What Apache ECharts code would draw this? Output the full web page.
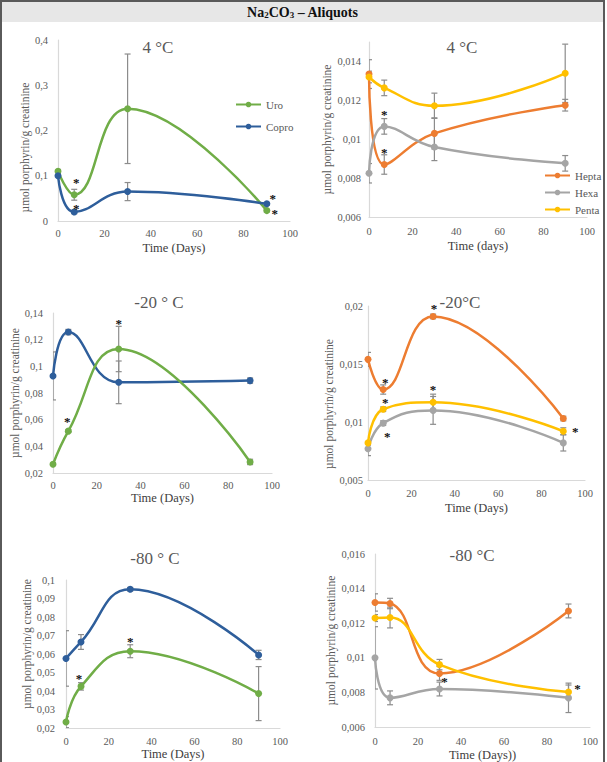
<!DOCTYPE html>
<html>
<head>
<meta charset="utf-8">
<script src="https://cdn.jsdelivr.net/npm/echarts@6/dist/echarts.min.js"></script>
<style>
  html, body { margin: 0; padding: 0; background: #fff; }
  #frame { position: relative; width: 607px; height: 762px; overflow: hidden; }
  #box {
    position: absolute; left: 0; top: 0; width: 605px; height: 770px; box-sizing: border-box;
    border: 2px solid #5a5a5a;
  }
  #header {
    position: absolute; left: 2px; top: 2px; width: 601px; height: 20px; background: #e7e7e7;
    font: bold 14px "Liberation Serif", serif; color: #111; text-align: center; line-height: 22px;
  }
  #header sub { font-size: 9px; vertical-align: -1px; line-height: 0; }
  #chart { position: absolute; left: 0; top: 0; width: 607px; height: 762px; }
</style>
</head>
<body>
<div id="frame">
  <div id="box"></div>
  <div id="header">Na<sub>2</sub>CO<sub>3</sub> – Aliquots</div>
  <div id="chart"></div>
</div>
<script>
const days = [0, 7, 30, 90];

// 4 °C
const uro4 = [0.110, 0.058, 0.248, 0.023];
const uro4Err = [0.004, 0.012, 0.121, 0.003];
const copro4 = [0.100, 0.020, 0.065, 0.038];
const copro4Err = [0.005, 0.004, 0.020, 0.003];
const hepta4 = [0.01335, 0.0087, 0.0103, 0.01175];
const hepta4Err = [0.00074, 0.0005, 0.0008, 0.0003];
const hexa4 = [0.00825, 0.01066, 0.0096, 0.00876];
const hexa4Err = [0.0005, 0.0004, 0.0007, 0.0004];
const penta4 = [0.0132, 0.01264, 0.01172, 0.01339];
const penta4Err = [0.0003, 0.0004, 0.00065, 0.0015];

// -20 °C
const uro20 = [0.0266, 0.0514, 0.113, 0.0283];
const uro20Err = [0.001, 0.001, 0.017, 0.002];
const copro20 = [0.0928, 0.1257, 0.088, 0.0893];
const copro20Err = [0.018, 0.002, 0.016, 0.002];
const hepta20 = [0.0154, 0.0128, 0.0191, 0.0103];
const hepta20Err = [0.0006, 0.0004, 0.0002, 0.0002];
const hexa20 = [0.0077, 0.0099, 0.011, 0.0082];
const hexa20Err = [0.0006, 0.0002, 0.0012, 0.0007];
const penta20 = [0.0082, 0.0111, 0.0117, 0.0092];
const penta20Err = [0.0002, 0.0002, 0.0007, 0.0003];

// -80 °C
const uro80 = [0.0232, 0.0425, 0.0615, 0.0386];
const uro80Err = [0.003, 0.002, 0.0035, 0.0146];
const copro80 = [0.0576, 0.0665, 0.095, 0.0595];
const copro80Err = [0.015, 0.004, 0.001, 0.0025];
const hepta80 = [0.0132, 0.01314, 0.0091, 0.01271];
const hepta80Err = [0.0005, 0.0003, 0.0004, 0.0004];
const hexa80 = [0.0100, 0.00769, 0.0082, 0.00769];
const hexa80Err = [0.0018, 0.0004, 0.0004, 0.00085];
const penta80 = [0.0123, 0.01233, 0.00961, 0.00803];
const penta80Err = [0.0002, 0.0006, 0.0003, 0.0004];

const xTicks = { min: 0, max: 100, interval: 20 };

const colors = { Uro: '#70AD47', Copro: '#2E5E9B', Hepta: '#ED7D31', Hexa: '#A5A5A5', Penta: '#FFC000' };
const serif = 'Liberation Serif';
const grey = '#595959';

const panels = [
  {
    title: '4 °C', tx: 158, ty: 47,
    grid: { left: 58, top: 40, width: 232, height: 181 },
    y: { min: 0, max: 0.4, interval: 0.1 },
    lines: [['Uro', uro4, uro4Err], ['Copro', copro4, copro4Err]],
    xName: 'Time (Days)', xGap: 20, xMargin: 7, yGap: 20, yMargin: 10, yShift: 17,
    stars: [['Uro', 1, 2, -15], ['Copro', 1, 2, -6], ['Copro', 3, 6, -8], ['Uro', 3, 8, 0]]
  },
  {
    title: '4 °C', tx: 462, ty: 47,
    grid: { left: 369, top: 42, width: 218, height: 175 },
    y: { min: 0.006, max: 0.015, interval: 0.002 },
    lines: [['Hepta', hepta4, hepta4Err], ['Hexa', hexa4, hexa4Err], ['Penta', penta4, penta4Err]],
    xName: 'Time (days)', xGap: 22, xMargin: 9, yGap: 36, yMargin: 8, yShift: 0,
    stars: [['Hexa', 1, 0, -15], ['Hepta', 1, 0, -15]]
  },
  {
    title: '-20 ° C', tx: 159, ty: 302,
    grid: { left: 53, top: 313, width: 219, height: 160 },
    y: { min: 0.02, max: 0.14, interval: 0.02 },
    lines: [['Copro', copro20, copro20Err], ['Uro', uro20, uro20Err]],
    xName: 'Time (Days)', xGap: 18, xMargin: 7, yGap: 2, yMargin: 10, yShift: 0,
    stars: [['Uro', 1, -1, -13], ['Uro', 2, 0, -29]]
  },
  {
    title: '-20°C', tx: 460, ty: 302,
    grid: { left: 368, top: 306, width: 217, height: 174 },
    y: { min: 0.005, max: 0.02, interval: 0.005 },
    lines: [['Hepta', hepta20, hepta20Err], ['Hexa', hexa20, hexa20Err], ['Penta', penta20, penta20Err]],
    xName: 'Time (Days)', xGap: 21, xMargin: 8, yGap: 32, yMargin: 5, yShift: 11,
    stars: [['Hepta', 1, 2, -10], ['Penta', 1, 2, -10], ['Hexa', 1, 4, 10],
            ['Hepta', 2, 1, -11], ['Penta', 2, 0, -16], ['Penta', 3, 12, -3]]
  },
  {
    title: '-80 ° C', tx: 155, ty: 558,
    grid: { left: 66, top: 580, width: 214, height: 148 },
    y: { min: 0.02, max: 0.1, interval: 0.01 },
    lines: [['Copro', copro80, copro80Err], ['Uro', uro80, uro80Err]],
    xName: 'Time (Days)', xGap: 16, xMargin: 8, yGap: 27, yMargin: 11, yShift: -10,
    stars: [['Uro', 1, -2, -11], ['Uro', 2, 0, -13]]
  },
  {
    title: '-80 °C', tx: 472, ty: 555,
    grid: { left: 375, top: 554, width: 215, height: 178 },
    y: { min: 0.006, max: 0.016, interval: 0.002 },
    lines: [['Hepta', hepta80, hepta80Err], ['Hexa', hexa80, hexa80Err], ['Penta', penta80, penta80Err]],
    xName: 'Time (Days))', xGap: 18, xMargin: 9, yGap: 36, yMargin: 10, yShift: 0,
    stars: [['Hepta', 2, 5, 5], ['Penta', 3, 9, -6]]
  }
];

const fmt = (v) => String(+v.toFixed(6)).replace('.', ',');

function errorBar(params, api) {
  const x = api.value(0), y = api.value(1), e = api.value(2);
  const top = api.coord([x, y + e]);
  const bot = api.coord([x, y - e]);
  const c = 3;
  const st = { stroke: '#8c8c8c', lineWidth: 1.2, fill: null };
  return {
    type: 'group',
    children: [
      { type: 'line', shape: { x1: top[0], y1: top[1], x2: bot[0], y2: bot[1] }, style: st },
      { type: 'line', shape: { x1: top[0] - c, y1: top[1], x2: top[0] + c, y2: top[1] }, style: st },
      { type: 'line', shape: { x1: bot[0] - c, y1: bot[1], x2: bot[0] + c, y2: bot[1] }, style: st }
    ]
  };
}

const grid = [], xAxis = [], yAxis = [], series = [], graphic = [];

panels.forEach((p, k) => {
  grid.push(p.grid);
  xAxis.push({
    type: 'value', gridIndex: k, ...xTicks,
    name: p.xName, nameLocation: 'middle', nameGap: p.xGap,
    nameTextStyle: { fontFamily: serif, fontSize: 12.5, color: '#404040' },
    axisLine: { show: true, onZero: false, lineStyle: { color: '#d9d9d9', width: 1.2 } },
    axisTick: { show: false },
    splitLine: { show: false },
    axisLabel: { fontFamily: serif, fontSize: 10.5, color: grey, margin: p.xMargin }
  });
  yAxis.push({
    type: 'value', gridIndex: k, min: p.y.min, max: p.y.max, interval: p.y.interval,
    name: 'µmol porphyrin/g creatinine', nameLocation: 'middle', nameGap: p.yGap,
    nameTextStyle: {
      fontFamily: serif, fontSize: 11.5, color: grey,
      padding: p.yShift > 0 ? [0, 2 * p.yShift, 0, 0] : [0, 0, 0, -2 * p.yShift]
    },
    axisLine: { show: true, lineStyle: { color: '#d9d9d9', width: 1.2 } },
    axisTick: { show: false },
    splitLine: { show: false },
    axisLabel: { fontFamily: serif, fontSize: 10.5, color: grey, margin: p.yMargin, formatter: fmt, showMaxLabel: k !== 1 }
  });
  graphic.push({
    type: 'text', x: p.tx, y: p.ty,
    style: {
      text: p.title, fontFamily: serif, fontSize: 17, fill: grey,
      align: 'center', verticalAlign: 'middle', textAlign: 'center', textVerticalAlign: 'middle'
    }
  });

  p.lines.forEach(([name, vals, errs]) => {
    series.push({
      type: 'custom', xAxisIndex: k, yAxisIndex: k, silent: true, clip: true, z: 2,
      itemStyle: { color: '#8c8c8c' },
      data: days.map((d, i) => [d, vals[i], errs[i]]),
      renderItem: errorBar
    });
  });
  p.lines.forEach(([name, vals]) => {
    series.push({
      type: 'line', name, xAxisIndex: k, yAxisIndex: k, z: 3,
      data: days.map((d, i) => [d, vals[i]]),
      smooth: 0.45, symbol: 'circle', symbolSize: 7,
      lineStyle: { width: 2.5, color: colors[name] },
      itemStyle: { color: colors[name] }
    });
  });
});

const legendText = { fontFamily: serif, fontSize: 11, color: grey };

const chart = echarts.init(document.getElementById('chart'), null, { renderer: 'svg' });
chart.setOption({
  animation: false,
  textStyle: { fontFamily: serif },
  grid, xAxis, yAxis, series, graphic,
  legend: [
    { data: ['Uro', 'Copro'], orient: 'vertical', left: 235, top: 99, itemWidth: 25, itemHeight: 7, itemGap: 11, padding: 0, textStyle: legendText },
    { data: ['Hepta', 'Hexa', 'Penta'], orient: 'vertical', left: 544, top: 170, itemWidth: 25, itemHeight: 7, itemGap: 6, padding: 0, textStyle: legendText }
  ]
});

// significance asterisks, placed at the data points through each panel's scales
const starGraphics = [];
panels.forEach((p, k) => {
  const byName = {};
  p.lines.forEach(([name, vals]) => { byName[name] = vals; });
  p.stars.forEach(([name, i, dx, dy]) => {
    const pt = chart.convertToPixel({ gridIndex: k }, [days[i], byName[name][i]]);
    starGraphics.push({
      type: 'text', x: pt[0] + dx, y: pt[1] + dy + 3, z: 10,
      style: {
        text: '*', fill: '#111', fontFamily: serif, fontSize: 13, fontWeight: 'bold',
        align: 'center', verticalAlign: 'middle', textAlign: 'center', textVerticalAlign: 'middle'
      }
    });
  });
});
chart.setOption({ graphic: graphic.concat(starGraphics) });
</script>
</body>
</html>
